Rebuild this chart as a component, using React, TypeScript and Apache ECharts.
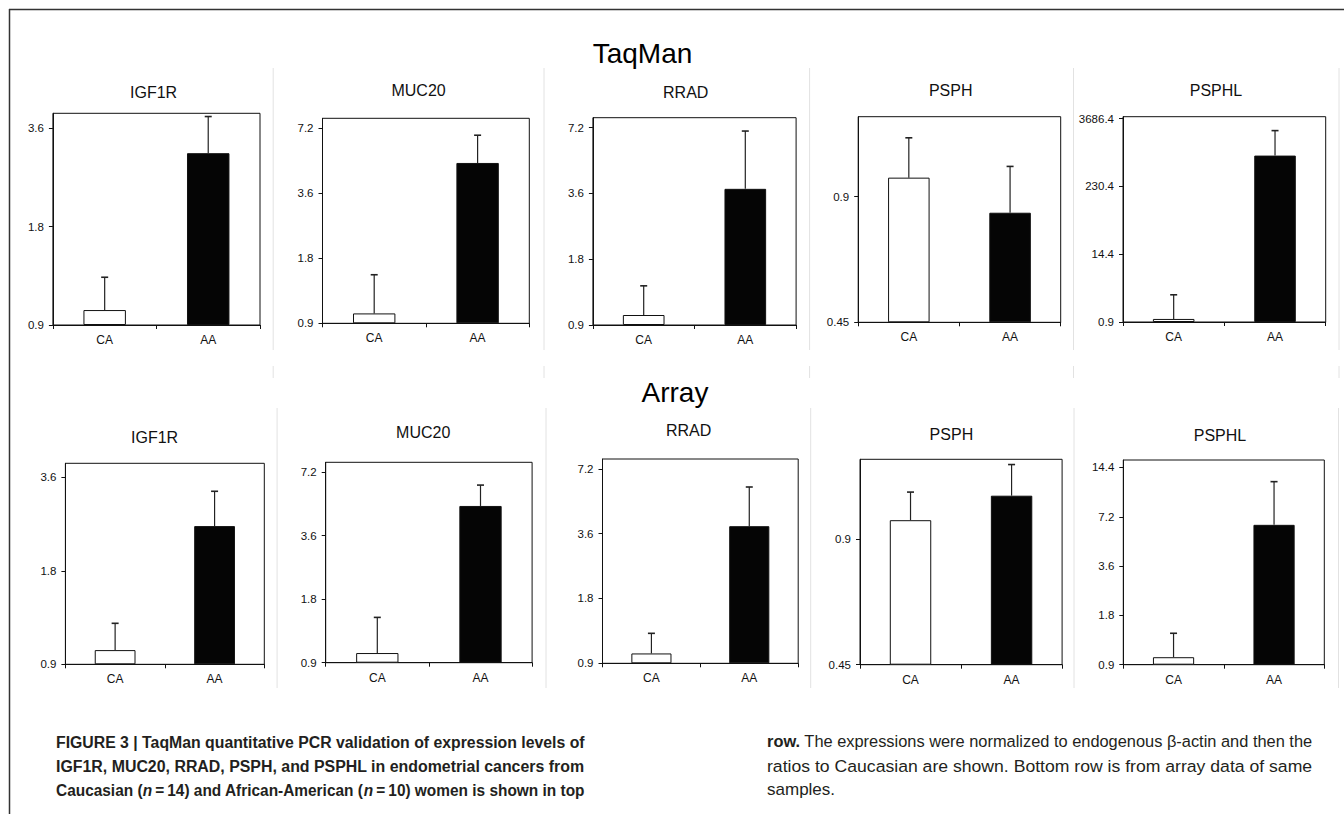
import React, { useEffect, useRef } from "react";
import * as echarts from "echarts";

// ---------- data ----------
const groups = ["CA", "AA"];
const genes = ["IGF1R", "MUC20", "RRAD", "PSPH", "PSPHL"];
const rowTitles = ["TaqMan", "Array"];

// ratio to Caucasian: bar height (mean) and top of error bar, per gene [CA, AA]
const taqmanMean = [[1.0, 3.02], [1.0, 4.97], [1.0, 3.78], [1.0, 0.824], [1.02, 815]];
const taqmanUpper = [[1.26, 3.91], [1.51, 6.68], [1.36, 6.95], [1.246, 1.064], [2.74, 2264]];
const arrayMean = [[1.0, 2.51], [1.0, 4.97], [1.0, 3.9], [1.0, 1.145], [1.0, 6.43]];
const arrayUpper = [[1.22, 3.25], [1.475, 6.24], [1.24, 5.93], [1.168, 1.36], [1.4, 11.8]];

// y tick labels (log axes) and axis tops
const taqmanTicks = [[0.9, 1.8, 3.6], [0.9, 1.8, 3.6, 7.2], [0.9, 1.8, 3.6, 7.2], [0.45, 0.9], [0.9, 14.4, 230.4, 3686.4]];
const arrayTicks = [[0.9, 1.8, 3.6], [0.9, 1.8, 3.6, 7.2], [0.9, 1.8, 3.6, 7.2], [0.45, 0.9], [0.9, 1.8, 3.6, 7.2, 14.4]];
const taqmanAxisMax = [4, 8, 8, 1.4, 4000];
const arrayAxisMax = [4, 8, 8, 1.4, 16];

// caption
const captionLeft = [
  [{ t: "FIGURE 3 | TaqMan quantitative PCR validation of expression levels of", b: true }],
  [{ t: "IGF1R, MUC20, RRAD, PSPH, and PSPHL in endometrial cancers from", b: true }],
  [
    { t: "Caucasian (", b: true },
    { t: "n", b: true, i: true },
    { t: "\u2009=\u200914) and African-American (", b: true },
    { t: "n", b: true, i: true },
    { t: "\u2009=\u200910) women is shown in top", b: true },
  ],
];
const captionRight = [
  [{ t: "row.", b: true }, { t: " The expressions were normalized to endogenous \u03b2-actin and then the" }],
  [{ t: "ratios to Caucasian are shown. Bottom row is from array data of same" }],
  [{ t: "samples." }],
];

// ---------- layout ----------
const FONT = '"Liberation Sans", Arial, Helvetica, sans-serif';
const gridBoxes = [
  [52.9, 113.3, 207.1, 211.7],
  [322.5, 118.3, 206.8, 205.0],
  [592.9, 117.7, 203.2, 207.3],
  [858.2, 116.7, 202.5, 205.6],
  [1123.0, 116.7, 202.7, 205.3],
  [65.4, 463.3, 198.9, 201.0],
  [325.7, 462.3, 206.4, 200.4],
  [602.5, 459.0, 195.7, 204.3],
  [860.0, 459.3, 202.1, 205.4],
  [1123.3, 460.0, 201.0, 204.7],
];
const titlePos = [
  [153.6, 92.7], [418.6, 90.7], [685.7, 92], [950.7, 90.7], [1216, 90.7],
  [154.6, 437.3], [423.2, 432.7], [688.6, 430.7], [951.4, 434], [1220, 435],
];
const rowTitlePos = [[642.5, 53.3], [675, 392]];
const sepTopX = [273.2, 544, 809.6, 1073.5, 1339];
const sepBotX = [277.1, 546, 810.7, 1074, 1338.5];
const groupColors = ["#ffffff", "#050505"];

function measure(segs: any[], size: number) {
  const c = document.createElement("canvas").getContext("2d")!;
  let w = 0;
  for (const s of segs) {
    c.font = `${s.i ? "italic " : ""}${s.b ? "bold " : ""}${size}px ${FONT}`;
    w += c.measureText(s.t).width;
  }
  return w;
}

function richLine(segs: any[]) {
  return segs
    .map((s) => `{${s.b ? "b" : "r"}${s.i ? "i" : ""}|${s.t}}`)
    .join("");
}

function buildOption() {
  const grids: any[] = [];
  const xAxes: any[] = [];
  const yAxes: any[] = [];
  const series: any[] = [];
  const graphics: any[] = [];

  const rows = [
    { mean: taqmanMean, upper: taqmanUpper, ticks: taqmanTicks, max: taqmanAxisMax },
    { mean: arrayMean, upper: arrayUpper, ticks: arrayTicks, max: arrayAxisMax },
  ];

  rows.forEach((row, r) => {
    genes.forEach((gene, g) => {
      const idx = r * 5 + g;
      const ticks = row.ticks[g];
      const base = ticks[0];
      const step = ticks[1] / ticks[0];
      const tf = (v: number) => Math.log(v / base) / Math.log(step);
      const tickVals = ticks.map(tf);
      const [left, top, width, height] = gridBoxes[idx];
      grids.push({
        left, top, width, height,
        show: true,
        borderColor: "#111",
        borderWidth: 1,
        backgroundColor: "transparent",
      });
      xAxes.push({
        type: "category",
        gridIndex: idx,
        data: groups,
        axisLine: { show: true, onZero: false, lineStyle: { color: "#111", width: 1 } },
        axisTick: { show: true, inside: false, length: 4, lineStyle: { color: "#111" } },
        axisLabel: { color: "#111", fontSize: 12, fontFamily: FONT, margin: 9 },
        splitLine: { show: false },
      });
      yAxes.push({
        type: "value",
        gridIndex: idx,
        min: 0,
        max: tf(row.max[g]),
        axisLine: { show: true, lineStyle: { color: "#111", width: 1 } },
        axisTick: { show: true, inside: false, length: 4, lineStyle: { color: "#111" }, customValues: tickVals },
        axisLabel: {
          color: "#111",
          fontSize: 11.5,
          fontFamily: FONT,
          margin: 9,
          customValues: tickVals,
          formatter: (v: number) => {
            const k = tickVals.findIndex((tv) => Math.abs(tv - v) < 1e-6);
            return k >= 0 ? String(ticks[k]) : "";
          },
        },
        splitLine: { show: false },
      });
      series.push({
        type: "bar",
        xAxisIndex: idx,
        yAxisIndex: idx,
        barWidth: "41%",
        data: row.mean[g].map((m, j) => ({
          value: tf(m),
          itemStyle: { color: groupColors[j], borderColor: "#111", borderWidth: 1 },
        })),
        z: 2,
      });
      series.push({
        type: "custom",
        xAxisIndex: idx,
        yAxisIndex: idx,
        z: 3,
        encode: { x: 0, y: [1, 2] },
        data: row.mean[g].map((m, j) => [j, tf(m), tf(row.upper[g][j])]),
        renderItem: (params: any, api: any) => {
          const x = api.value(0);
          const p0 = api.coord([x, api.value(1)]);
          const p1 = api.coord([x, api.value(2)]);
          const hw = 3.5;
          return {
            type: "group",
            children: [
              { type: "line", shape: { x1: p0[0], y1: p0[1], x2: p1[0], y2: p1[1] }, style: { stroke: "#222", lineWidth: 1.2 } },
              { type: "line", shape: { x1: p1[0] - hw, y1: p1[1], x2: p1[0] + hw, y2: p1[1] }, style: { stroke: "#222", lineWidth: 1.6 } },
            ],
          };
        },
      });
      graphics.push({
        type: "text",
        x: titlePos[idx][0],
        y: titlePos[idx][1],
        style: {
          text: gene,
          fill: "#111",
          fontSize: 16,
          fontFamily: FONT,
          align: "center",
          verticalAlign: "middle",
          textAlign: "center",
          textVerticalAlign: "middle",
        },
      });
    });
  });

  rowTitles.forEach((t, r) => {
    graphics.push({
      type: "text",
      x: rowTitlePos[r][0],
      y: rowTitlePos[r][1],
      style: {
        text: t,
        fill: "#000",
        fontSize: 28,
        fontFamily: FONT,
        align: "center",
        verticalAlign: "middle",
        textAlign: "center",
        textVerticalAlign: "middle",
      },
    });
  });

  // frame
  graphics.push({ type: "line", shape: { x1: 9, y1: 9.5, x2: 1344, y2: 9.5 }, style: { stroke: "#333", lineWidth: 1.5 } });
  graphics.push({ type: "line", shape: { x1: 9.5, y1: 9, x2: 9.5, y2: 814 }, style: { stroke: "#333", lineWidth: 1.5 } });

  // panel separators
  sepTopX.forEach((x) => {
    graphics.push({ type: "line", shape: { x1: x, y1: 68, x2: x, y2: 350 }, style: { stroke: "#e2e2e2", lineWidth: 1 } });
    graphics.push({ type: "line", shape: { x1: x, y1: 366, x2: x, y2: 378 }, style: { stroke: "#e2e2e2", lineWidth: 1 } });
  });
  sepBotX.forEach((x) => {
    graphics.push({ type: "line", shape: { x1: x, y1: 408, x2: x, y2: 688 }, style: { stroke: "#e2e2e2", lineWidth: 1 } });
  });

  // caption
  const CAP = 17;
  const rich = {
    b: { fontWeight: "bold", fontSize: CAP, fontFamily: FONT, fill: "#231f20" },
    bi: { fontWeight: "bold", fontStyle: "italic", fontSize: CAP, fontFamily: FONT, fill: "#231f20" },
    r: { fontWeight: "normal", fontSize: CAP, fontFamily: FONT, fill: "#231f20" },
  };
  const lineY = [741.7, 766, 790];
  const cols = [
    { lines: captionLeft, x: 56, w: 529 },
    { lines: captionRight, x: 767, w: 546 },
  ];
  cols.forEach((col) => {
    const scales: number[] = [];
    col.lines.forEach((segs, k) => {
      const isLast = col.lines === captionRight && k === col.lines.length - 1;
      let s = col.w / measure(segs, CAP);
      if (isLast) s = scales.reduce((a, b) => a + b, 0) / scales.length;
      else scales.push(s);
      graphics.push({
        type: "text",
        x: col.x,
        y: lineY[k],
        scaleX: s,
        style: {
          text: richLine(segs),
          rich,
          fontSize: CAP,
          fontFamily: FONT,
          fill: "#231f20",
          align: "left",
          verticalAlign: "middle",
          textAlign: "left",
          textVerticalAlign: "middle",
        },
      });
    });
  });

  return {
    animation: false,
    backgroundColor: "#ffffff",
    grid: grids,
    xAxis: xAxes,
    yAxis: yAxes,
    series,
    graphic: { elements: graphics },
  };
}

export default function App() {
  const ref = useRef<HTMLDivElement>(null);
  useEffect(() => {
    document.body.style.margin = "0";
    const chart = echarts.init(ref.current!, null, { renderer: "svg" });
    chart.setOption(buildOption() as any);
    return () => chart.dispose();
  }, []);
  return <div ref={ref} style={{ width: 1344, height: 814, background: "#fff" }} />;
}
